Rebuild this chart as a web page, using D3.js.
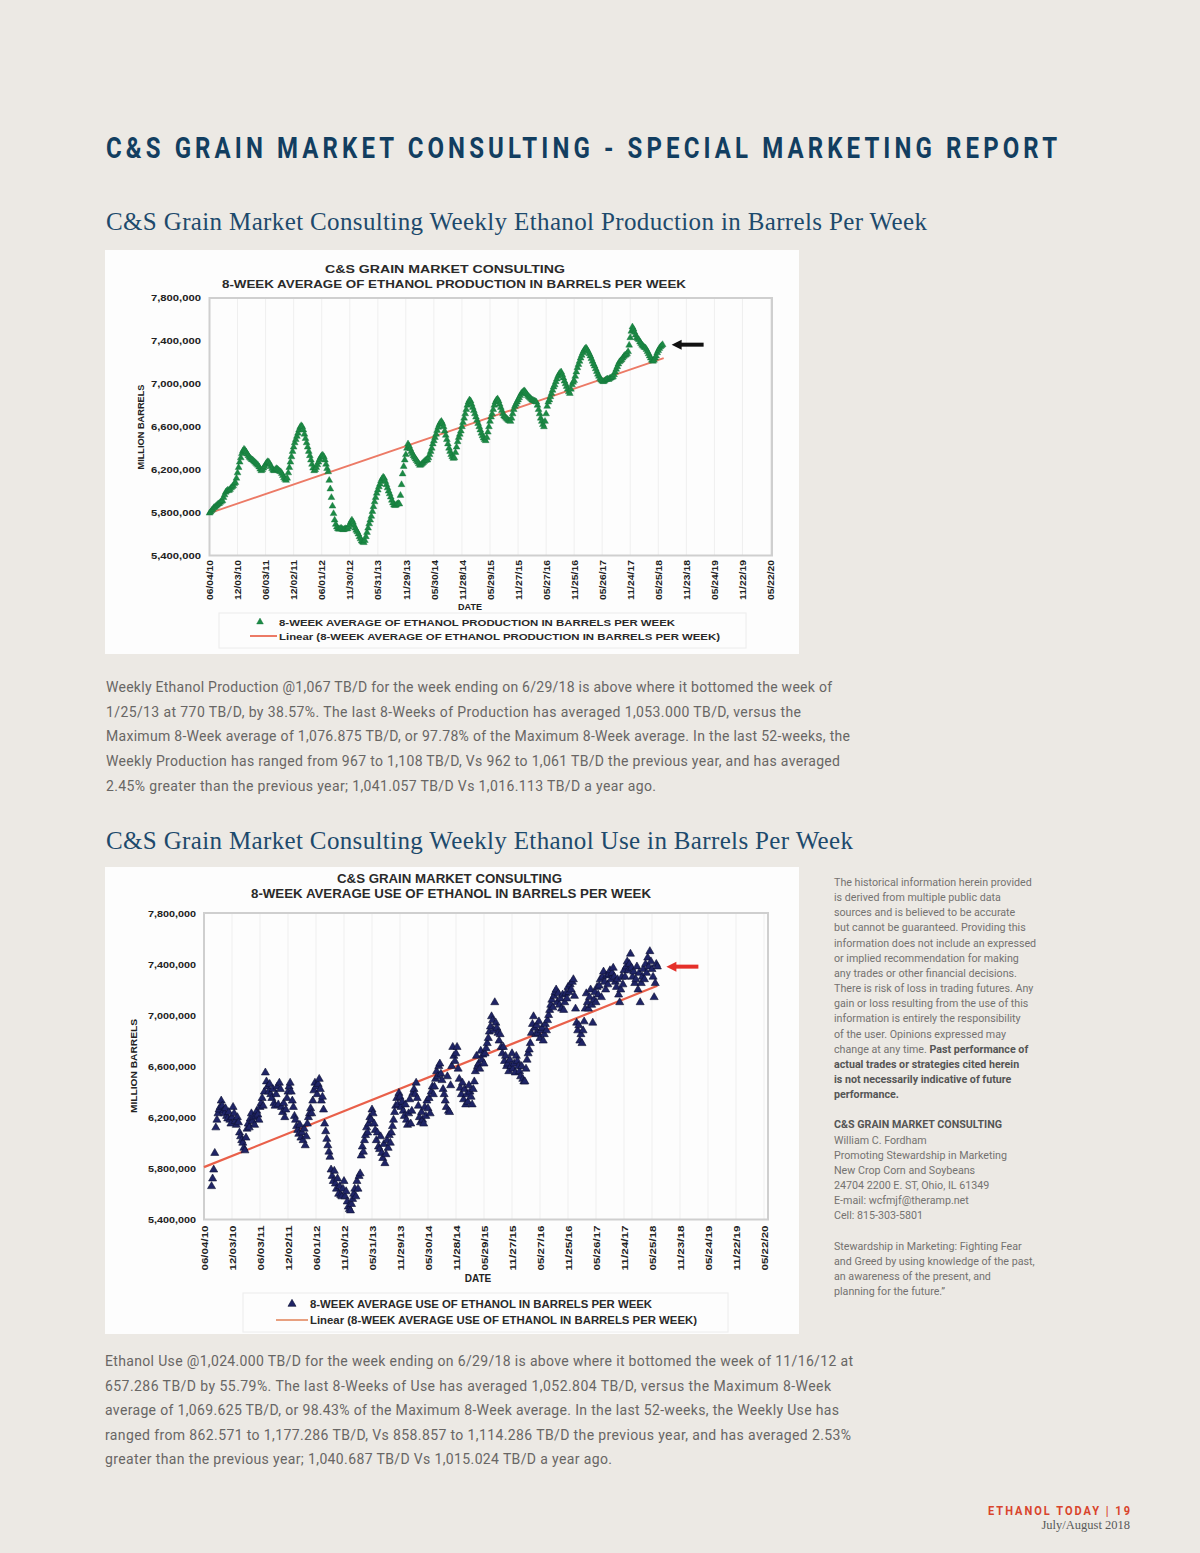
<!DOCTYPE html>
<html><head><meta charset="utf-8">
<script src="https://cdn.jsdelivr.net/npm/d3@7"></script>
<style>body{margin:0;background:#ece9e4;} svg{display:block;}</style>
</head><body><svg id="page" width="1200" height="1553"></svg>
<script>
// ---------------- DATA ----------------
const dateLabels = ["06/04/10","12/03/10","06/03/11","12/02/11","06/01/12","11/30/12","05/31/13","11/29/13","05/30/14","11/28/14","05/29/15","11/27/15","05/27/16","11/25/16","05/26/17","11/24/17","05/25/18","11/23/18","05/24/19","11/22/19","05/22/20"];
const yTicks = [5400000,5800000,6200000,6600000,7000000,7400000,7800000];

// 8-week average of ethanol production, thousand barrels per week, weekly from 06/04/10
const prodStart = "06/04/10";
const prodValues = [
5795,5805,5820,5830,5845,5850,5860,5870,5880,5885,
5895,5905,5910,5940,5965,5990,6000,6010,6005,6015,
6030,6040,6050,6070,6080,6120,6170,6220,6270,6310,
6350,6375,6390,6380,6365,6345,6330,6315,6305,6295,
6290,6280,6270,6260,6250,6240,6225,6205,6190,6200,
6215,6230,6250,6265,6275,6270,6250,6230,6210,6195,
6190,6200,6210,6205,6195,6185,6180,6165,6145,6125,
6110,6100,6120,6170,6220,6270,6320,6370,6410,6450,
6480,6510,6540,6570,6595,6610,6600,6570,6530,6490,
6450,6410,6370,6330,6290,6250,6215,6190,6200,6220,
6245,6270,6295,6315,6330,6335,6320,6290,6250,6210,
6180,6100,6020,5940,5860,5790,5730,5690,5665,5650,
5645,5650,5655,5645,5640,5645,5650,5648,5650,5665,
5690,5715,5730,5710,5680,5655,5635,5620,5600,5575,
5555,5535,5525,5520,5540,5575,5615,5655,5695,5730,
5765,5810,5855,5900,5940,5980,6010,6040,6065,6095,
6115,6130,6120,6090,6060,6030,6000,5975,5945,5915,
5890,5870,5865,5870,5880,5885,5880,5960,6060,6160,
6230,6290,6340,6400,6440,6420,6395,6370,6350,6330,
6315,6300,6285,6270,6255,6240,6245,6255,6265,6275,
6285,6290,6290,6310,6340,6370,6400,6440,6470,6500,
6530,6565,6595,6620,6640,6650,6630,6600,6560,6520,
6480,6440,6400,6370,6340,6320,6305,6310,6360,6410,
6460,6500,6530,6560,6600,6640,6680,6720,6760,6800,
6830,6850,6840,6810,6780,6750,6720,6690,6660,6630,
6600,6570,6540,6515,6495,6480,6470,6500,6550,6600,
6650,6690,6720,6760,6800,6830,6850,6860,6840,6810,
6780,6750,6720,6700,6690,6680,6670,6660,6655,6650,
6680,6720,6760,6790,6810,6830,6850,6870,6890,6910,
6920,6930,6935,6920,6905,6890,6880,6870,6860,6850,
6845,6840,6835,6830,6800,6760,6720,6680,6650,6620,
6600,6650,6720,6790,6830,6850,6880,6910,6940,6970,
6990,7020,7045,7070,7090,7105,7110,7085,7055,7025,
7000,6975,6950,6925,6910,6950,6990,7015,7030,7070,
7110,7150,7180,7210,7240,7265,7290,7310,7325,7335,
7320,7300,7280,7260,7235,7210,7185,7165,7140,7115,
7090,7070,7050,7035,7025,7020,7025,7035,7040,7045,
7040,7050,7055,7060,7065,7085,7110,7135,7160,7185,
7205,7215,7225,7240,7255,7265,7270,7280,7300,7360,
7430,7490,7530,7510,7480,7455,7430,7420,7410,7390,
7375,7360,7350,7340,7335,7320,7300,7280,7260,7240,
7220,7210,7220,7240,7260,7290,7310,7330,7345,7355,
7365];
const prodTrend = [5795, 7240]; // linear trend, first and last week

// 8-week average use of ethanol, thousand barrels per week, weekly from 07/23/10
const useStart = "07/23/10";
const useValues = [
5660,5720,5790,5920,6120,6180,6230,6260,6280,6330,
6290,6250,6230,6270,6210,6190,6240,6180,6150,6200,
6280,6230,6170,6140,6200,6160,6080,6050,6020,6000,
5960,5940,6040,6110,6150,6120,6190,6230,6170,6200,
6140,6210,6250,6220,6180,6280,6310,6350,6290,6400,
6550,6480,6440,6400,6460,6380,6350,6420,6310,6290,
6380,6440,6300,6470,6420,6280,6240,6310,6200,6260,
6350,6400,6440,6470,6400,6330,6280,6210,6180,6130,
6100,6070,6140,6040,6080,6020,6110,5980,6050,6150,
6200,6230,6270,6230,6330,6410,6470,6440,6380,6460,
6500,6420,6330,6360,6260,6150,6090,6030,5980,5930,
5890,5790,5740,5700,5780,5680,5640,5720,5600,5660,
5590,5580,5640,5700,5580,5620,5540,5500,5480,5470,
5520,5560,5600,5640,5580,5700,5640,5740,5760,5900,
5970,5930,6020,6060,6120,6080,6150,6200,6180,6260,
6230,6150,6100,6020,6080,5970,5950,6050,5920,5880,
5990,5840,5910,6020,5960,6060,6000,6080,6130,6180,
6240,6290,6350,6300,6390,6360,6280,6320,6250,6210,
6300,6180,6140,6230,6340,6150,6250,6390,6420,6380,
6470,6350,6290,6200,6160,6240,6180,6150,6280,6210,
6330,6270,6350,6230,6400,6440,6380,6440,6500,6560,
6520,6600,6620,6540,6490,6420,6380,6330,6280,6520,
6250,6240,6450,6600,6750,6680,6640,6700,6750,6580,
6500,6430,6380,6470,6340,6420,6300,6380,6320,6450,
6400,6360,6300,6420,6480,6560,6680,6600,6620,6580,
6720,6650,6690,6620,6700,6740,6780,6820,6870,6910,
6990,6960,6880,7100,6940,6900,6860,6800,6850,6750,
6700,6750,6640,6680,6600,6620,6560,6650,6600,6700,
6580,6620,6550,6680,6640,6600,6560,6520,6600,6500,
6480,6480,6580,6650,6700,6730,6780,6860,6930,6990,
6900,6850,6920,6860,6950,6820,6880,6900,6800,6850,
6930,6880,6960,7000,7040,7080,7120,7060,7150,7180,
7200,7100,7170,7080,7130,7050,7160,7040,7100,7170,
7130,7220,7180,7240,7200,7260,7280,7150,7050,6940,
6880,6920,6800,6850,6780,6880,6950,7050,7170,7100,
7050,7140,7200,7080,6940,7120,7180,7100,7220,7160,
7230,7280,7140,7300,7340,7260,7200,7310,7240,7320,
7350,7280,7330,7370,7300,7260,7220,7280,7160,7100,
7200,7300,7240,7350,7300,7380,7420,7350,7400,7480,
7370,7300,7340,7250,7280,7380,7200,7330,7100,7250,
7300,7360,7280,7400,7330,7450,7380,7500,7420,7360,
7300,7140,7250,7400,7380];
const useTrend = [5810, 7230];
const trendStart = "06/04/10", trendEnd = "06/29/18";

// ---------------- TEXT ----------------
const headerText = "C&S GRAIN MARKET CONSULTING - SPECIAL MARKETING REPORT";
const sub1 = "C&S Grain Market Consulting Weekly Ethanol Production in Barrels Per Week";
const sub2 = "C&S Grain Market Consulting Weekly Ethanol Use in Barrels Per Week";
const para1 = [
 "Weekly Ethanol Production @1,067 TB/D for the week ending on 6/29/18 is above where it bottomed the week of",
 "1/25/13 at 770 TB/D, by 38.57%. The last 8-Weeks of Production has averaged 1,053.000 TB/D, versus the",
 "Maximum 8-Week average of 1,076.875 TB/D, or 97.78% of the Maximum 8-Week average. In the last 52-weeks, the",
 "Weekly Production has ranged from 967 to 1,108 TB/D, Vs 962 to 1,061 TB/D the previous year, and has averaged",
 "2.45% greater than the previous year; 1,041.057 TB/D Vs 1,016.113 TB/D a year ago."];
const para2 = [
 "Ethanol Use @1,024.000 TB/D for the week ending on 6/29/18 is above where it bottomed the week of 11/16/12 at",
 "657.286 TB/D by 55.79%. The last 8-Weeks of Use has averaged 1,052.804 TB/D, versus the Maximum 8-Week",
 "average of 1,069.625 TB/D, or 98.43% of the Maximum 8-Week average. In the last 52-weeks, the Weekly Use has",
 "ranged from 862.571 to 1,177.286 TB/D, Vs 858.857 to 1,114.286 TB/D the previous year, and has averaged 2.53%",
 "greater than the previous year; 1,040.687 TB/D Vs 1,015.024 TB/D a year ago."];
const sideLines = [
 ["The historical information herein provided"],
 ["is derived from multiple public data"],
 ["sources and is believed to be accurate"],
 ["but cannot be guaranteed. Providing this"],
 ["information does not include an expressed"],
 ["or implied recommendation for making"],
 ["any trades or other financial decisions."],
 ["There is risk of loss in trading futures. Any"],
 ["gain or loss resulting from the use of this"],
 ["information is entirely the responsibility"],
 ["of the user. Opinions expressed may"],
 ["change at any time. ", "Past performance of"],
 ["", "actual trades or strategies cited herein"],
 ["", "is not necessarily indicative of future"],
 ["", "performance."],
 [""],
 ["", "C&S GRAIN MARKET CONSULTING"],
 ["William C. Fordham"],
 ["Promoting Stewardship in Marketing"],
 ["New Crop Corn and Soybeans"],
 ["24704 2200 E. ST, Ohio, IL 61349"],
 ["E-mail: wcfmjf@theramp.net"],
 ["Cell: 815-303-5801"],
 [""],
 ["Stewardship in Marketing: Fighting Fear"],
 ["and Greed by using knowledge of the past,"],
 ["an awareness of the present, and"],
 ["planning for the future.\u201D"]];

// ---------------- DRAW ----------------
const parse = d3.timeParse("%m/%d/%y");
const svg = d3.select("#page");

function txt(g, x, y, s, o = {}) {
  const t = g.append("text").attr("x", x).attr("y", y).text(s)
    .attr("font-family", o.family || "Liberation Sans")
    .attr("font-size", o.size || 10)
    .attr("font-weight", o.weight || "normal")
    .attr("fill", o.fill || "#333")
    .attr("text-anchor", o.anchor || "start");
  if (o.len) t.attr("textLength", o.len).attr("lengthAdjust", o.adjust || "spacing");
  if (o.ls) t.attr("letter-spacing", o.ls);
  return t;
}

// header (condensed look: narrow glyphs, wide tracking)
const hg = svg.append("g").attr("transform", "translate(106,158) scale(0.8,1)");
txt(hg, 0, 0, headerText, {family: "Roboto", size: 30, weight: "bold", fill: "#123e60", len: 951 / 0.8});
txt(svg, 106, 230, sub1, {family: "Liberation Serif", size: 25, fill: "#1d4a6c", len: 821});
txt(svg, 106, 849, sub2, {family: "Liberation Serif", size: 25, fill: "#1d4a6c", len: 747});

// paragraphs
const p1w = [726, 695, 744, 734, 550];
para1.forEach((l, i) => txt(svg, 106, 692 + i * 24.65, l, {family: "Roboto", size: 14, fill: "#686664", len: p1w[i]}));
const p2w = [748, 726, 734, 746, 507];
para2.forEach((l, i) => txt(svg, 105, 1366 + i * 24.6, l, {family: "Roboto", size: 14, fill: "#686664", len: p2w[i]}));

// side notes
sideLines.forEach((parts, i) => {
  const t = svg.append("text").attr("x", 834).attr("y", 886 + i * 15.15)
    .attr("font-family", "Roboto").attr("font-size", 10.7).attr("fill", "#747270");
  t.append("tspan").text(parts[0]);
  if (parts.length > 1) t.append("tspan").attr("font-weight", "bold").attr("fill", "#555").text(parts[1]);
});

// footer
const fg = svg.append("g").attr("transform", "translate(1130,1515) scale(0.85,1)");
txt(fg, 0, 0, "ETHANOL TODAY | 19", {family: "Roboto", size: 13, weight: "bold", fill: "#d9442c", anchor: "end", len: 142 / 0.85});
txt(svg, 1130, 1529, "July/August 2018", {family: "Liberation Serif", size: 12.5, fill: "#5a5a5a", anchor: "end"});

function drawChart(c) {
  const g = svg.append("g");
  g.append("rect").attr("x", c.box[0]).attr("y", c.box[1]).attr("width", c.box[2]).attr("height", c.box[3]).attr("fill", "#fdfdfd");
  const tickDates = dateLabels.map(parse);
  const x = d3.scaleTime().domain([tickDates[0], tickDates[tickDates.length - 1]]).range([c.x0, c.x1]);
  const y = d3.scaleLinear().domain([yTicks[0], yTicks[yTicks.length - 1]]).range([c.bottom, c.top]);

  // grid
  g.append("g").selectAll("line").data(tickDates).join("line")
    .attr("x1", d => x(d)).attr("x2", d => x(d)).attr("y1", c.top).attr("y2", c.bottom)
    .attr("stroke", "#efefef").attr("stroke-width", 1);
  // plot border
  g.append("rect").attr("x", c.x0).attr("y", c.top).attr("width", c.right - c.x0).attr("height", c.bottom - c.top)
    .attr("fill", "none").attr("stroke", "#cfcfcf").attr("stroke-width", 2);

  // y axis
  const ya = g.append("g").attr("transform", `translate(${c.x0},0)`)
    .call(d3.axisLeft(y).tickValues(yTicks).tickFormat(d3.format(",")).tickSize(0).tickPadding(c.ypad));
  ya.select(".domain").remove();
  ya.selectAll("text").attr("font-family", "Liberation Sans").attr("font-weight", "bold")
    .attr("font-size", c.yfs).attr("fill", "#222").attr("textLength", c.ylen).attr("lengthAdjust", "spacingAndGlyphs");

  // x axis
  const xa = g.append("g").attr("transform", `translate(0,${c.bottom})`)
    .call(d3.axisBottom(x).tickValues(tickDates).tickFormat(d3.timeFormat("%m/%d/%y")).tickSize(0));
  xa.select(".domain").remove();
  xa.selectAll("text").attr("transform", "rotate(-90)").attr("x", -c.xpad).attr("y", 0).attr("dy", "0.35em")
    .attr("text-anchor", "end").attr("font-family", "Liberation Sans").attr("font-weight", "bold")
    .attr("font-size", c.xfs).attr("fill", "#222").attr("textLength", c.xlen).attr("lengthAdjust", "spacingAndGlyphs");

  // titles
  txt(g, c.t1[0], c.t1[1], "C&S GRAIN MARKET CONSULTING", {size: c.t1[3], weight: "bold", anchor: "middle", len: c.t1[2], fill: "#2a2a2a", adjust: "spacingAndGlyphs"});
  txt(g, c.t2[0], c.t2[1], c.title2, {size: c.t2[3], weight: "bold", anchor: "middle", len: c.t2[2], fill: "#2a2a2a", adjust: "spacingAndGlyphs"});
  txt(g, 0, 0, "MILLION BARRELS", {size: c.yt[3], weight: "bold", anchor: "middle", len: c.yt[2], fill: "#222", adjust: "spacingAndGlyphs"})
    .attr("transform", `translate(${c.yt[0]},${c.yt[1]}) rotate(-90)`).attr("dy", "0.35em");
  txt(g, c.dt[0], c.dt[1], "DATE", {size: c.dt[2], weight: "bold", anchor: "middle", fill: "#222"});

  // trend line
  const tdates = [parse(trendStart), parse(trendEnd)];
  g.append("line").attr("x1", x(tdates[0])).attr("y1", y(c.trend[0] * 1000))
    .attr("x2", x(tdates[1])).attr("y2", y(c.trend[1] * 1000))
    .attr("stroke", c.trendColor).attr("stroke-width", c.trendW);

  // points
  const start = parse(c.start);
  const sym = d3.symbol(d3.symbolTriangle, c.symSize);
  g.append("g").selectAll("path").data(c.values).join("path")
    .attr("d", sym)
    .attr("transform", (d, i) => `translate(${x(d3.timeWeek.offset(start, i))},${y(d * 1000)})`)
    .attr("fill", c.ptColor).attr("stroke", c.ptStroke).attr("stroke-width", c.ptStrokeW);

  // arrow pointing at latest value
  const last = c.values[c.values.length - 1];
  const ax = x(d3.timeWeek.offset(start, c.values.length - 1)) + 9, ay = y(last * 1000);
  g.append("line").attr("x1", ax + 8).attr("x2", ax + 32).attr("y1", ay).attr("y2", ay)
    .attr("stroke", c.arrowColor).attr("stroke-width", 4);
  g.append("path").attr("d", `M${ax},${ay} L${ax + 10},${ay - 5} L${ax + 10},${ay + 5} Z`).attr("fill", c.arrowColor);

  // legend
  g.append("rect").attr("x", c.lg.box[0]).attr("y", c.lg.box[1]).attr("width", c.lg.box[2]).attr("height", c.lg.box[3])
    .attr("fill", "none").attr("stroke", "#ececec");
  g.append("path").attr("d", d3.symbol(d3.symbolTriangle, c.symSize)).attr("transform", `translate(${c.lg.tri[0]},${c.lg.tri[1]})`)
    .attr("fill", c.ptColor).attr("stroke", c.ptStroke).attr("stroke-width", c.ptStrokeW);
  g.append("line").attr("x1", c.lg.line[0]).attr("x2", c.lg.line[1]).attr("y1", c.lg.line[2]).attr("y2", c.lg.line[2])
    .attr("stroke", c.lg.lineColor).attr("stroke-width", 2);
  txt(g, c.lg.tx, c.lg.y1, c.title2, {size: c.lg.fs, weight: "bold", len: c.lg.len1, fill: "#2a2a2a", adjust: "spacingAndGlyphs"});
  txt(g, c.lg.tx, c.lg.y2, "Linear (" + c.title2 + ")", {size: c.lg.fs, weight: "bold", len: c.lg.len2, fill: "#2a2a2a", adjust: "spacingAndGlyphs"});
}

drawChart({
  box: [105, 250, 694, 404], x0: 209.5, x1: 770.5, right: 772, top: 298, bottom: 555.5,
  ypad: 8.5, yfs: 9, ylen: 50, xpad: 4.5, xfs: 9, xlen: 40,
  title2: "8-WEEK AVERAGE OF ETHANOL PRODUCTION IN BARRELS PER WEEK",
  t1: [445, 273, 240, 11], t2: [454, 287.5, 464, 11.5], yt: [141, 427, 85, 8.5], dt: [470, 610, 9],
  start: prodStart, values: prodValues, trend: prodTrend, trendColor: "#ec7a66", trendW: 1.8,
  symSize: 20, ptColor: "#1c8a45", ptStroke: "#14743a", ptStrokeW: 0.4, arrowColor: "#111",
  lg: {box: [219, 613, 527, 35], tri: [260, 622], line: [250, 277, 636], lineColor: "#ec7a66",
       tx: 279, y1: 625.5, y2: 639.5, fs: 9, len1: 396, len2: 441}
});

drawChart({
  box: [105, 867, 694, 467], x0: 204, x1: 764, right: 768, top: 913, bottom: 1219.5,
  ypad: 8, yfs: 9.5, ylen: 48, xpad: 6, xfs: 9.5, xlen: 45,
  title2: "8-WEEK AVERAGE USE OF ETHANOL IN BARRELS PER WEEK",
  t1: [449.5, 882.5, 225, 12], t2: [451, 898, 400, 12.5], yt: [134, 1066, 94, 9], dt: [478, 1282, 10],
  start: useStart, values: useValues, trend: useTrend, trendColor: "#e9604a", trendW: 2.2,
  symSize: 28, ptColor: "#1f2466", ptStroke: "#0e1030", ptStrokeW: 0.6, arrowColor: "#e5302a",
  lg: {box: [243, 1293, 485, 39], tri: [292, 1304], line: [276, 308, 1320], lineColor: "#e8a080",
       tx: 310, y1: 1307.5, y2: 1323.5, fs: 10, len1: 342, len2: 387}
});
</script></body></html>
